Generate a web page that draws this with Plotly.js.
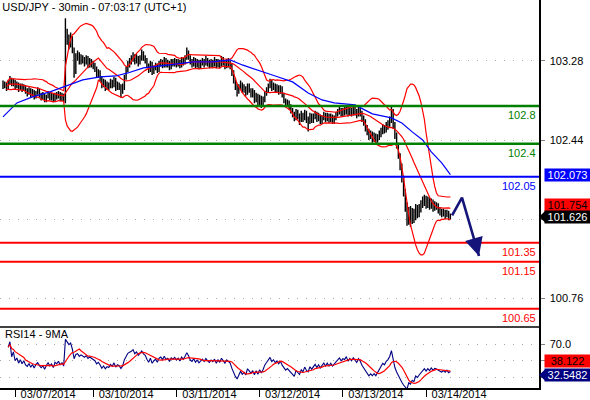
<!DOCTYPE html>
<html>
<head>
<meta charset="utf-8">
<script src="https://cdn.plot.ly/plotly-3.0.1.min.js"></script>
<style>html,body{margin:0;padding:0;background:#fff;}#chart{width:590px;height:400px;}</style>
</head>
<body>
<div id="chart"></div>
<script>
// ---------- DATA (USD/JPY 30min bars) ----------
const firstOpen = 103.04;
const closes = [
103.01,103.03,102.99,103.05,103.08,103.03,103.06,103.01,103.03,102.99,
103.02,102.98,103.01,102.96,102.94,102.97,102.92,102.95,102.90,102.94,
102.96,102.92,102.89,102.91,102.86,102.90,102.93,102.89,102.91,102.86,
102.92,102.90,102.93,102.88,102.91,102.86,103.55,103.50,103.45,103.52,
103.40,103.16,103.31,103.34,103.27,103.32,103.29,103.26,103.31,103.24,
103.28,103.25,103.23,103.20,103.13,103.16,103.10,103.02,103.06,102.99,
103.03,103.01,103.06,103.02,103.08,102.99,103.03,103.01,102.95,102.99,
103.10,103.18,103.24,103.27,103.29,103.33,103.27,103.31,103.26,103.30,
103.35,103.31,103.29,103.23,103.18,103.25,103.16,103.20,103.23,103.18,
103.25,103.27,103.23,103.29,103.24,103.26,103.21,103.27,103.25,103.28,
103.24,103.27,103.23,103.29,103.26,103.31,103.37,103.33,103.27,103.25,
103.29,103.24,103.27,103.23,103.26,103.28,103.25,103.29,103.26,103.24,
103.27,103.25,103.28,103.23,103.27,103.24,103.29,103.26,103.23,103.27,
103.25,103.23,103.16,103.08,103.01,102.95,102.99,103.03,102.97,102.99,
102.94,103.01,102.97,102.92,102.95,102.86,102.91,102.83,102.89,102.81,
102.86,102.93,102.97,103.01,103.06,102.99,103.02,102.97,103.00,102.95,
102.99,102.92,102.86,102.82,102.84,102.80,102.76,102.72,102.67,102.74,
102.70,102.65,102.71,102.67,102.73,102.66,102.63,102.70,102.65,102.69,
102.72,102.66,102.70,102.64,102.67,102.71,102.66,102.70,102.65,102.69,
102.64,102.67,102.71,102.73,102.76,102.72,102.75,102.74,102.78,102.72,
102.76,102.73,102.77,102.74,102.71,102.76,102.73,102.67,102.63,102.57,
102.53,102.48,102.50,102.46,102.48,102.44,102.47,102.50,102.53,102.57,
102.55,102.59,102.61,102.65,102.74,102.60,102.49,102.39,102.28,102.17,
102.04,101.89,101.75,101.59,101.70,101.61,101.68,101.61,101.72,101.65,
101.70,101.75,101.80,101.83,101.75,101.80,101.74,101.79,101.72,101.76,
101.74,101.70,101.68,101.66,101.68,101.64,101.67,101.61,101.626
];
const highs = [
103.07,103.06,103.05,103.08,103.12,103.10,103.09,103.08,103.06,103.05,
103.04,103.04,103.03,103.02,102.99,103.00,102.99,102.98,102.97,102.96,
103.00,102.98,102.94,102.95,102.93,102.92,102.96,102.95,102.94,102.93,
102.94,102.95,102.96,102.95,102.94,102.93,103.73,103.62,103.56,103.58,
103.54,103.42,103.36,103.39,103.37,103.35,103.34,103.32,103.34,103.33,
103.31,103.30,103.28,103.26,103.22,103.19,103.18,103.12,103.09,103.08,
103.06,103.05,103.09,103.08,103.11,103.10,103.06,103.05,103.03,103.04,
103.13,103.22,103.28,103.31,103.34,103.37,103.35,103.35,103.33,103.34,
103.40,103.38,103.34,103.31,103.25,103.28,103.27,103.23,103.26,103.25,
103.28,103.30,103.29,103.32,103.31,103.29,103.28,103.30,103.30,103.31,
103.30,103.30,103.29,103.32,103.31,103.34,103.42,103.39,103.34,103.30,
103.32,103.31,103.30,103.29,103.29,103.31,103.30,103.33,103.31,103.29,
103.30,103.29,103.32,103.30,103.30,103.29,103.33,103.32,103.28,103.30,
103.31,103.28,103.25,103.18,103.10,103.04,103.03,103.07,103.05,103.03,
103.01,103.04,103.04,102.99,102.99,102.97,102.94,102.93,102.92,102.91,
102.90,102.96,103.00,103.04,103.09,103.08,103.05,103.04,103.03,103.02,
103.02,103.01,102.94,102.88,102.87,102.86,102.82,102.78,102.74,102.77,
102.76,102.72,102.75,102.73,102.76,102.75,102.69,102.73,102.72,102.72,
102.75,102.74,102.73,102.71,102.70,102.74,102.73,102.73,102.72,102.72,
102.71,102.70,102.74,102.77,102.80,102.78,102.78,102.79,102.81,102.80,
102.79,102.78,102.80,102.79,102.77,102.80,102.78,102.75,102.70,102.66,
102.60,102.56,102.54,102.53,102.52,102.51,102.50,102.54,102.57,102.61,
102.60,102.63,102.65,102.69,102.79,102.77,102.63,102.52,102.41,102.30,
102.19,102.06,101.92,101.78,101.73,101.74,101.72,101.71,101.76,101.75,
101.76,101.80,101.84,101.86,101.85,101.84,101.83,101.82,101.81,101.79,
101.78,101.77,101.73,101.71,101.71,101.70,101.70,101.69,101.66
];
const lows = [
102.98,102.99,102.96,102.97,103.03,103.01,103.01,102.98,102.99,102.95,
102.97,102.95,102.96,102.93,102.90,102.92,102.89,102.90,102.87,102.88,
102.92,102.89,102.86,102.87,102.84,102.84,102.88,102.86,102.86,102.84,
102.84,102.87,102.88,102.85,102.85,102.84,102.83,103.45,103.40,103.42,
103.36,103.10,103.14,103.28,103.24,103.24,103.25,103.22,103.24,103.20,
103.21,103.21,103.19,103.16,103.10,103.10,103.06,102.99,103.00,102.96,
102.97,102.97,102.99,102.99,103.00,102.96,102.97,102.97,102.89,102.93,
102.97,103.08,103.16,103.21,103.24,103.27,103.24,103.25,103.22,103.24,
103.28,103.28,103.25,103.20,103.15,103.16,103.13,103.14,103.18,103.15,
103.16,103.22,103.20,103.21,103.21,103.21,103.18,103.19,103.22,103.22,
103.21,103.22,103.20,103.21,103.23,103.24,103.29,103.29,103.24,103.21,
103.22,103.20,103.21,103.19,103.20,103.23,103.21,103.23,103.22,103.20,
103.21,103.21,103.22,103.20,103.21,103.20,103.22,103.23,103.19,103.20,
103.21,103.19,103.12,103.04,102.97,102.90,102.93,102.97,102.94,102.94,
102.91,102.92,102.94,102.89,102.89,102.83,102.84,102.80,102.81,102.78,
102.79,102.84,102.91,102.95,102.99,102.96,102.97,102.94,102.95,102.92,
102.93,102.89,102.83,102.79,102.79,102.76,102.72,102.68,102.64,102.65,
102.66,102.60,102.63,102.63,102.65,102.62,102.53,102.61,102.62,102.62,
102.66,102.63,102.64,102.61,102.61,102.65,102.63,102.64,102.62,102.63,
102.61,102.61,102.65,102.69,102.71,102.69,102.69,102.70,102.71,102.69,
102.70,102.69,102.70,102.70,102.67,102.69,102.69,102.63,102.59,102.53,
102.49,102.44,102.45,102.41,102.42,102.40,102.41,102.44,102.47,102.50,
102.51,102.52,102.55,102.58,102.62,102.56,102.45,102.35,102.24,102.12,
101.99,101.84,101.68,101.53,101.54,101.52,101.55,101.56,101.59,101.61,
101.62,101.67,101.72,101.74,101.71,101.72,101.70,101.71,101.68,101.69,
101.70,101.66,101.64,101.62,101.63,101.60,101.62,101.59,101.60
];

// Blue moving average, by bar index
const maIdx = [0,8,17,27,35,46,56,65,72,81,91,100,110,121,131,138,147,157,167,176,184,191,203,213,224,230,236,242,247,253,258];
const maVal = [102.685,102.833,102.897,102.950,103.003,103.077,103.109,103.119,103.151,103.204,103.225,103.247,103.268,103.268,103.289,103.236,103.183,103.119,103.056,102.939,102.865,102.833,102.812,102.717,102.674,102.621,102.526,102.440,102.314,102.197,102.073];

// Forecast arrow path (bar index, price)
const fcIdx = [259, 264.7, 274.5];
const fcVal = [101.64, 101.83, 101.21];

// Horizontal levels
const levelValues = [102.8, 102.4, 102.05, 101.35, 101.15, 100.65];
const levelLabels = ['102.8', '102.4', '102.05', '101.35', '101.15', '100.65'];

// Axis ticks
const dateTickIdx = [7, 52, 100, 148, 196, 244];
const dateTickLabels = ['03/07/2014', '03/10/2014', '03/11/2014', '03/12/2014', '03/13/2014', '03/14/2014'];
const priceTicks = [103.28, 102.44, 101.60, 100.76];
const priceTickLabels = ['103.28', '102.44', '', '100.76'];
const rsiTicks = [70, 50, 30];
const rsiTickLabels = ['70.0', '', ''];

// Last-value tags
const priceTagValues = [102.073, 101.754, 101.626];
const priceTagLabels = ['102.073', '101.754', '101.626'];
const rsiTagValues = [38.122, 32.5482];
const rsiTagLabels = ['38.122', '32.5482'];

const titleText = 'USD/JPY - 30min - 07:03:17 (UTC+1)';
const rsiTitle = 'RSI14 - 9MA';

// ---------- STYLES ----------
const FONT = 'Liberation Sans, Arial, sans-serif';
const levelColors = ['#008000', '#008000', '#0000ff', '#ff0000', '#ff0000', '#ff0000'];
const levelWidths = [2.6, 2.6, 2, 2, 2, 2];
const priceTagStyle = [
  {bg: '#0000ff', fg: '#ffffff', shift: 0, pointer: false},
  {bg: '#ff0000', fg: '#000000', shift: 0, pointer: false},
  {bg: '#000000', fg: '#ffffff', shift: 0, pointer: true}
];
const rsiTagStyle = [
  {bg: '#ff0000', fg: '#000000', shift: 9, pointer: false},
  {bg: '#000080', fg: '#ffffff', shift: 0, pointer: true}
];

// ---------- DERIVED (indicators computed from the closes) ----------
const n = closes.length;
const idx = closes.map((_, i) => i);
const opens = [firstOpen].concat(closes.slice(0, n - 1));

const bbU = [], bbM = [], bbL = [];
for (let i = 0; i < n; i++) {
  if (i < 2) { bbU.push(null); bbM.push(null); bbL.push(null); continue; }
  const w = closes.slice(Math.max(0, i - 19), i + 1);
  const m = w.reduce((a, b) => a + b, 0) / w.length;
  const sd = Math.sqrt(w.reduce((a, b) => a + (b - m) * (b - m), 0) / w.length);
  bbU.push(m + 2 * sd); bbM.push(m); bbL.push(m - 2 * sd);
}

const rsi = [null];
let sg = 0, sl = 0, ag = 0, al = 0;
for (let i = 1; i < n; i++) {
  const ch = closes[i] - closes[i - 1];
  const g = Math.max(ch, 0), l = Math.max(-ch, 0);
  if (i <= 14) { sg += g; sl += l; ag = sg / i; al = sl / i; }
  else { ag = (ag * 13 + g) / 14; al = (al * 13 + l) / 14; }
  rsi.push(al === 0 ? 100 : 100 - 100 / (1 + ag / al));
}
const rsiPlot = rsi.map((v, i) => (i < 3 ? null : v));
const rsiMa = rsi.map((v, i) => {
  if (i < 3) return null;
  const w = rsi.slice(Math.max(3, i - 8), i + 1);
  return w.reduce((a, b) => a + b, 0) / w.length;
});

// ---------- GEOMETRY ----------
const PLOT_W = 539, PLOT_H = 388, SPLIT = 327;
const splitFrac = (PLOT_H - SPLIT) / PLOT_H;
const pxPerBar = 1.734, firstBarPx = 3;
const xr0 = -firstBarPx / pxPerBar;
const xr1 = xr0 + PLOT_W / pxPerBar;
const pxPerPrice = 94.3;
const yTop = 102.44 + 140 / pxPerPrice;
const yBot = 102.44 - (SPLIT - 140) / pxPerPrice;
const rsiPx = 0.8125;
const r2Top = 70 + (344.5 - SPLIT) / rsiPx;
const r2Bot = 70 - (PLOT_H - 344.5) / rsiPx;

const traces = [
  {type: 'ohlc', x: idx, open: opens, high: highs, low: lows, close: closes,
   xaxis: 'x', yaxis: 'y', tickwidth: 0.35,
   increasing: {line: {color: '#000000', width: 1.4}},
   decreasing: {line: {color: '#000000', width: 1.4}}, hoverinfo: 'skip'},
  {type: 'scatter', mode: 'lines', x: idx, y: bbU, line: {color: '#ff0000', width: 1.2}, hoverinfo: 'skip'},
  {type: 'scatter', mode: 'lines', x: idx, y: bbM, line: {color: '#ff0000', width: 1.2}, hoverinfo: 'skip'},
  {type: 'scatter', mode: 'lines', x: idx, y: bbL, line: {color: '#ff0000', width: 1.2}, hoverinfo: 'skip'},
  {type: 'scatter', mode: 'lines', x: maIdx, y: maVal, line: {color: '#0000ff', width: 1.2}, hoverinfo: 'skip'},
  {type: 'scatter', mode: 'lines', x: fcIdx, y: fcVal, line: {color: '#14147a', width: 2.6}, hoverinfo: 'skip'},
  {type: 'scatter', mode: 'lines', x: idx, y: rsiPlot, xaxis: 'x', yaxis: 'y2', line: {color: '#000080', width: 1.1}, hoverinfo: 'skip'},
  {type: 'scatter', mode: 'lines', x: idx, y: rsiMa, xaxis: 'x', yaxis: 'y2', line: {color: '#ff0000', width: 1.2}, hoverinfo: 'skip'}
];

const shapes = [];
const annotations = [];
levelValues.forEach((v, k) => {
  shapes.push({type: 'line', xref: 'paper', yref: 'y', x0: 0, x1: 1, y0: v, y1: v,
    line: {color: levelColors[k], width: levelWidths[k]}, layer: 'above'});
  annotations.push({xref: 'paper', yref: 'y', x: 1, y: v, xanchor: 'right', yanchor: 'top',
    xshift: -1, yshift: -1, text: levelLabels[k], showarrow: false,
    font: {family: FONT, size: 11, color: levelColors[k]}});
});
// panel separator
shapes.push({type: 'line', xref: 'paper', yref: 'paper', x0: 0, x1: 1, y0: splitFrac, y1: splitFrac,
  line: {color: '#000000', width: 1.5}});

const tagX = (545 + 590) / 2 / PLOT_W;
const ptrX = 545.5 / PLOT_W;
function addTags(values, labels, styles, yref, unitPerPx) {
  values.forEach((v, k) => {
    const st = styles[k];
    annotations.push({xref: 'paper', yref: yref, x: tagX, y: v, xanchor: 'center', yanchor: 'middle',
      yshift: st.shift, text: labels[k], showarrow: false, width: 45, height: 12, borderpad: 0,
      bgcolor: st.bg, font: {family: FONT, size: 11, color: st.fg}, align: 'center'});
    if (st.pointer) {
      const h = 6 * unitPerPx;
      shapes.push({type: 'path', xref: 'paper', yref: yref,
        path: 'M 1,' + v + ' L ' + ptrX + ',' + (v + h) + ' L ' + ptrX + ',' + (v - h) + ' Z',
        fillcolor: st.bg, line: {width: 0}});
    }
  });
}
addTags(priceTagValues, priceTagLabels, priceTagStyle, 'y', 1 / pxPerPrice);
addTags(rsiTagValues, rsiTagLabels, rsiTagStyle, 'y2', 1 / rsiPx);

// forecast arrow head
const hx = fcIdx[1] + 0.8 * (fcIdx[2] - fcIdx[1]);
const hy = fcVal[1] + 0.8 * (fcVal[2] - fcVal[1]);
annotations.push({xref: 'x', yref: 'y', x: fcIdx[2], y: fcVal[2], axref: 'x', ayref: 'y', ax: hx, ay: hy,
  text: '', showarrow: true, arrowhead: 2, arrowsize: 1.4, arrowwidth: 2.6, arrowcolor: '#14147a', standoff: 0});

annotations.push({xref: 'paper', yref: 'paper', x: 0.005, y: (PLOT_H - 334) / PLOT_H, xanchor: 'left', yanchor: 'middle',
  text: rsiTitle, showarrow: false, font: {family: FONT, size: 11, color: '#000000'}});

const yCommon = {
  side: 'right', ticks: 'outside', ticklen: 4, tickcolor: '#808080', showline: true, linecolor: '#000000', linewidth: 1.5,
  showgrid: true, gridcolor: '#a8a8a8', griddash: '1px,8px', gridwidth: 1, zeroline: false, fixedrange: true,
  tickfont: {family: FONT, size: 11, color: '#000000'}, ticklabelstandoff: 3, anchor: 'x'
};

const layout = {
  width: 590, height: 400,
  margin: {l: 0, r: 51, t: 0, b: 12, pad: 0},
  paper_bgcolor: '#ffffff', plot_bgcolor: '#ffffff',
  showlegend: false,
  title: {text: titleText, x: 0.004, xref: 'container', xanchor: 'left', y: 0.982, yref: 'container', yanchor: 'middle',
          font: {family: FONT, size: 11, color: '#000000'}},
  xaxis: {domain: [0, 1], anchor: 'y2', range: [xr0, xr1], tickmode: 'array', tickvals: dateTickIdx, ticktext: dateTickLabels,
          ticks: 'outside', ticklen: 7, tickcolor: '#000000', showline: true, linecolor: '#000000', linewidth: 1.5,
          showgrid: false, zeroline: false, fixedrange: true, rangeslider: {visible: false},
          tickfont: {family: FONT, size: 11, color: '#000000'}, ticklabelshift: 33, ticklabelstandoff: -12},
  yaxis: Object.assign({}, yCommon, {domain: [splitFrac, 1], range: [yBot, yTop], tickmode: 'array', tickvals: priceTicks, ticktext: priceTickLabels}),
  yaxis2: Object.assign({}, yCommon, {domain: [0, splitFrac], range: [r2Bot, r2Top], tickmode: 'array', tickvals: rsiTicks, ticktext: rsiTickLabels}),
  shapes: shapes,
  annotations: annotations
};

Plotly.newPlot('chart', traces, layout, {staticPlot: true, displayModeBar: false});
</script>
</body>
</html>
